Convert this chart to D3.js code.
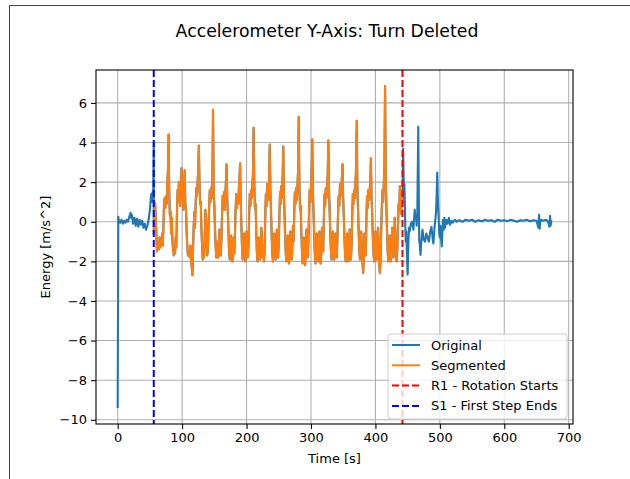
<!DOCTYPE html>
<html>
<head>
<meta charset="utf-8">
<script src="https://cdn.jsdelivr.net/npm/d3@7"></script>
<style>
  html, body { margin: 0; padding: 0; background: #fff; }
  svg { display: block; font-family: "DejaVu Sans", sans-serif; }
</style>
</head>
<body>
<svg id="chart" width="630" height="479"></svg>
<script>
// ---------------- DATA ----------------
const titleText = "Accelerometer Y-Axis: Turn Deleted";
const xLabel = "Time [s]";
const yLabel = "Energy [m/s^2]";
const xTicks = [0, 100, 200, 300, 400, 500, 600, 700];
const yTicks = [-10, -8, -6, -4, -2, 0, 2, 4, 6];
const legendLabels = ["Original", "Segmented", "R1 - Rotation Starts", "S1 - First Step Ends"];
const rotationStart = 442;   // R1
const firstStepEnd = 56;     // S1

// Original signal before S1 (time, value)
const originalStart = [
  [0,-9.4],[1,0.25],[2,0.0],[4,-0.05],[6,0.1],[8,-0.1],[10,0.05],[12,-0.05],[14,0.1],[16,0.0],
  [18,0.25],[20,0.45],[21,0.2],[22,0.35],[24,-0.1],[26,0.2],[28,-0.2],[30,0.15],[32,-0.25],[34,0.1],
  [36,-0.15],[38,0.05],[40,-0.3],[42,-0.1],[44,-0.4],[46,-0.2],[48,0.1],[50,0.6],[52,1.4],[53,1.0],
  [54,1.5],[55,1.2],[56,4.0]
];

// Segmented signal between S1 and R1 (time, value)
const segmented = [
  [56,-0.6],[57,0.4],[58,0.95],[59,0.3],[60,-0.6],[61,-1.5],[62,-1.2],[64,-1.4],[65,-0.8],[66,-1.3],
  [68,-1.0],[69,-0.6],[70,-1.2],[71,-0.3],[72,1.0],[73,1.2],[74,0.7],[75,1.3],[76,0.9],[77,1.9],[78,2.6],[79,4.4],
  [80,1.5],[81,0.3],[82,0.5],[83,-0.6],[84,0.2],[85,-1.0],[86,-1.4],[87,-1.7],[88,-1.5],[89,-1.6],[90,-0.8],
  [91,-1.3],[92,0.4],[93,1.6],[94,1.0],[95,2.0],[96,1.4],[97,0.8],[98,1.6],[99,2.7],[100,1.2],[101,1.4],
  [102,0.6],[103,1.3],[104,2.6],[105,0.9],[106,0.6],[107,-0.5],[108,-1.2],[109,-1.7],[110,-1.5],[112,-1.8],
  [113,-1.2],[114,-1.9],[115,-2.3],[116,-2.7],[117,-1.4],[118,-0.2],[119,0.5],[120,-0.3],[121,0.9],[122,1.7],
  [123,1.3],[124,2.0],[125,2.6],[126,3.85],
  [127,1.8],[128,0.9],[129,1.0],[130,-0.4],[131,-1.2],[132,-1.9],[133,-1.6],[134,-1.8],[135,-0.9],[136,0.6],
  [137,0.2],[138,-1.0],[139,-1.7],[140,-1.4],[141,-0.3],[142,0.7],[143,1.6],[144,1.0],[145,1.7],[146,1.2],[147,2.1],[148,5.65],
  [149,1.4],[150,0.8],[151,-0.3],[152,-1.2],[153,-1.8],[154,-1.6],[155,-1.0],[156,-1.8],[157,-1.4],[158,-0.4],
  [159,-1.1],[160,-1.7],[161,-0.9],[162,0.4],[163,1.3],[164,0.9],[165,1.5],[166,0.6],[167,1.4],[168,2.0],[169,2.9],
  [170,1.2],[171,0.4],[172,-0.6],[173,-1.6],[174,-1.9],[175,-1.3],[176,-0.7],[177,-1.5],[178,-2.0],[179,-1.8],
  [180,-0.8],[181,-1.6],[182,-0.7],[183,0.6],[184,1.4],[185,0.7],[186,1.3],[187,0.9],[188,1.6],[189,2.2],[190,2.95],
  [191,1.0],[192,-0.2],[193,-1.3],[194,-1.9],[195,-1.5],[196,-0.6],[197,-1.2],[198,-2.0],[199,-1.7],[200,-0.5],
  [201,-0.9],[202,-1.8],[203,-1.3],[204,0.3],[205,1.4],[206,0.8],[207,1.6],[208,1.2],[209,1.9],[210,2.4],[211,4.75],
  [212,2.0],[213,0.7],[214,0.9],[215,-0.4],[216,-1.5],[217,-2.0],[218,-1.6],[219,-0.8],[220,-1.4],[221,-1.9],
  [222,-1.3],[223,-0.3],[224,-1.1],[225,-1.8],[226,-1.2],[227,-2.0],[228,-1.5],[229,0.2],[230,1.4],[231,0.8],
  [232,1.9],[233,1.3],[234,1.1],[235,2.1],[236,3.9],
  [237,1.6],[238,0.5],[239,-0.7],[240,-1.6],[241,-2.0],[242,-1.4],[243,-0.6],[244,-1.3],[245,-1.9],[246,-1.6],
  [247,-0.4],[248,-1.0],[249,-1.8],[250,-1.1],[251,0.3],[252,1.5],[253,0.9],[254,1.8],[255,1.2],[256,2.3],[257,3.8],
  [258,1.4],[259,0.3],[260,-0.8],[261,-1.7],[262,-2.0],[263,-1.5],[264,-0.7],[265,-1.6],[266,-2.1],[267,-1.4],
  [268,-0.5],[269,-1.2],[270,-1.9],[271,-1.5],[272,-0.2],[273,-1.0],[274,0.4],[275,1.5],[276,0.9],[277,1.7],
  [278,1.1],[279,1.8],[280,2.6],[281,5.3],
  [282,1.9],[283,0.6],[284,0.8],[285,-0.5],[286,-1.5],[287,-2.1],[288,-1.7],[289,-0.8],[290,-1.6],[291,-2.2],
  [292,-1.3],[293,-0.4],[294,-1.2],[295,-1.8],[296,-1.0],[297,0.5],[298,1.6],[299,1.0],[300,1.8],[301,2.4],[302,4.15],
  [303,1.5],[304,0.4],[305,-0.7],[306,-1.6],[307,-2.1],[308,-1.5],[309,-0.6],[310,-1.4],[311,-2.0],[312,-1.7],
  [313,-0.5],[314,-1.2],[315,-2.1],[316,-1.6],[317,-0.3],[318,-1.0],[319,-1.5],[320,0.2],[321,1.4],[322,0.8],
  [323,1.7],[324,1.2],[325,1.6],[326,2.5],[327,4.1],
  [328,1.6],[329,0.5],[330,-0.6],[331,-1.5],[332,-1.9],[333,-1.4],[334,-0.5],[335,-1.3],[336,-1.9],[337,-1.6],
  [338,-0.6],[339,-1.4],[340,-1.8],[341,-0.9],[342,0.4],[343,1.3],[344,0.8],[345,1.9],[346,1.3],[347,1.6],[348,2.2],[349,2.9],
  [350,1.1],[351,0.2],[352,-0.9],[353,-1.7],[354,-2.0],[355,-1.5],[356,-0.6],[357,-1.4],[358,-2.0],[359,-1.7],
  [360,-0.4],[361,-1.1],[362,-1.9],[363,-1.2],[364,0.3],[365,1.4],[366,0.9],[367,1.6],[368,1.2],[369,1.9],[370,2.7],[371,5.1],
  [372,1.7],[373,0.6],[374,-0.5],[375,-1.4],[376,-1.9],[377,-1.3],[378,-0.5],[379,-1.4],[380,-2.1],[381,-2.6],
  [382,-1.8],[383,-0.6],[384,-1.2],[385,-1.7],[386,0.1],[387,1.3],[388,0.7],[389,1.6],[390,1.1],[391,1.5],[392,2.1],[393,3.2],
  [394,1.2],[395,0.3],[396,-0.8],[397,-1.6],[398,-2.0],[399,-1.4],[400,-0.5],[401,-1.3],[402,-1.9],[403,-1.6],
  [404,-0.3],[405,-1.2],[406,-2.2],[407,-2.6],[408,-1.9],[409,-0.4],[410,0.8],[411,1.6],[412,1.0],[413,1.9],[414,2.8],[415,6.85],
  [416,2.2],[417,0.8],[418,-0.4],[419,-1.5],[420,-2.0],[421,-1.6],[422,-0.7],[423,-1.5],[424,-2.0],[425,-1.3],
  [426,-0.3],[427,-1.2],[428,-1.8],[429,-1.0],[430,0.2],[431,-0.8],[432,-1.6],[433,-2.0],[434,-1.4],[435,-0.2],
  [436,0.9],[437,0.6],[438,1.8],[439,1.2],[440,0.4],[441,1.5],[442,0.9]
];

// Original signal after R1 (time, value)
const originalEnd = [
  [443,3.7],[444,1.8],[445,1.9],[446,0.3],[447,-1.0],[448,-0.5],[449,-1.8],[450,-2.67],[451,-1.2],[452,-0.3],
  [453,-0.5],[455,-0.1],[457,0.0],[459,-0.4],[461,0.6],[462,0.2],[463,0.3],[464,-0.2],[465,0.4],[466.5,4.8],
  [467.5,0.5],[468,-0.9],[469,-1.2],[470,-1.67],[471,-1.1],[473,-0.4],[475,-0.9],[477,-1.0],[479,-0.6],[481,-0.8],
  [483,-1.0],[485,-0.5],[487,-0.25],[489,-0.9],[490,-1.1],[492,-0.2],[494,0.43],[495,1.3],[496,2.48],[497,1.0],
  [498,0.3],[499,-0.6],[500,-0.8],[501,-0.2],[502,-0.9],[503,-1.25],[504,-0.5],[505,0.1],[506,-0.4],[507,0.2],
  [508,-0.3],[510,0.1],[512,-0.1],[514,0.2],[516,-0.15],[518,0.05],[520,-0.05],[523,0.1],[526,0.0],[530,0.08],
  [535,0.0],[540,0.1],[545,0.05],[550,0.1],[555,0.0],[560,0.08],[565,0.02],[570,0.1],[575,0.05],[580,0.08],
  [585,0.0],[590,0.1],[595,0.05],[600,0.08],[605,0.03],[610,0.1],[615,0.05],[620,0.0],[625,0.08],[630,0.05],
  [635,0.1],[640,0.02],[645,0.08],[650,0.05],[653,-0.3],[654,0.35],[655,-0.35],[656,0.1],[660,0.05],[665,0.1],
  [668,0.0],[670,-0.25],[671,0.3],[672,-0.2],[673,0.1]
];

// ---------------- LAYOUT ----------------
const svg = d3.select("#chart");
const W = 630, H = 479;
const plot = { left: 96, right: 573, top: 70, bottom: 424 };

const original = originalStart.concat(segmented, originalEnd);

const tMin = 0, tMax = 673, vMin = -9.4, vMax = 6.85;
const xPad = (tMax - tMin) * 0.05, yPad = (vMax - vMin) * 0.05;
const x = d3.scaleLinear().domain([tMin - xPad, tMax + xPad]).range([plot.left, plot.right]);
const y = d3.scaleLinear().domain([vMin - yPad, vMax + yPad]).range([plot.bottom, plot.top]);

svg.append("rect").attr("x", 0).attr("y", 0).attr("width", W).attr("height", H).attr("fill", "#fff");
// figure frame
svg.append("path").attr("d", `M9.5,${H} L9.5,5.5 L${W},5.5`).attr("fill", "none").attr("stroke", "#444").attr("stroke-width", 1);

// grid
const grid = svg.append("g");
grid.selectAll("line.gx").data(xTicks).join("line")
  .attr("x1", d => x(d)).attr("x2", d => x(d)).attr("y1", plot.top).attr("y2", plot.bottom)
  .attr("stroke", "#b0b0b0").attr("stroke-width", 1.1);
grid.selectAll("line.gy").data(yTicks).join("line")
  .attr("y1", d => y(d)).attr("y2", d => y(d)).attr("x1", plot.left).attr("x2", plot.right)
  .attr("stroke", "#b0b0b0").attr("stroke-width", 1.1);

// clip
svg.append("clipPath").attr("id", "clip").append("rect")
  .attr("x", plot.left).attr("y", plot.top).attr("width", plot.right - plot.left).attr("height", plot.bottom - plot.top);

const line = d3.line().x(d => x(d[0])).y(d => y(d[1]));
const dataG = svg.append("g").attr("clip-path", "url(#clip)");
dataG.append("path").datum(original).attr("d", line).attr("fill", "none")
  .attr("stroke", "#1f77b4").attr("stroke-width", 2.1).attr("stroke-linejoin", "round");
dataG.append("path").datum(segmented).attr("d", line).attr("fill", "none")
  .attr("stroke", "#ff7f0e").attr("stroke-width", 2.1).attr("stroke-linejoin", "round");

// vertical markers
dataG.append("line").attr("x1", x(rotationStart)).attr("x2", x(rotationStart)).attr("y1", plot.top).attr("y2", plot.bottom)
  .attr("stroke", "#ff0000").attr("stroke-width", 2).attr("stroke-dasharray", "7,3");
dataG.append("line").attr("x1", x(firstStepEnd)).attr("x2", x(firstStepEnd)).attr("y1", plot.top).attr("y2", plot.bottom)
  .attr("stroke", "#0000ff").attr("stroke-width", 2).attr("stroke-dasharray", "7,3");

// axes
const fmt = d => (d < 0 ? "\u2212" + Math.abs(d) : String(d));
const xAxis = svg.append("g").attr("transform", `translate(0,${plot.bottom})`)
  .call(d3.axisBottom(x).tickValues(xTicks).tickFormat(fmt).tickSize(5).tickPadding(4));
const yAxis = svg.append("g").attr("transform", `translate(${plot.left},0)`)
  .call(d3.axisLeft(y).tickValues(yTicks).tickFormat(fmt).tickSize(5).tickPadding(4));
[xAxis, yAxis].forEach(g => {
  g.select(".domain").remove();
  g.selectAll(".tick line").attr("stroke", "#000").attr("stroke-width", 1.1);
  g.selectAll(".tick text").attr("fill", "#000").style("font-size", "13px").style("font-family", "DejaVu Sans");
});

// spines
svg.append("rect").attr("x", plot.left).attr("y", plot.top)
  .attr("width", plot.right - plot.left).attr("height", plot.bottom - plot.top)
  .attr("fill", "none").attr("stroke", "#000").attr("stroke-width", 1.1);

// labels
svg.append("text").attr("x", (plot.left + plot.right) / 2).attr("y", 463).attr("text-anchor", "middle")
  .style("font-size", "13px").text(xLabel);
svg.append("text").attr("transform", `translate(50,${(plot.top + plot.bottom) / 2}) rotate(-90)`)
  .attr("text-anchor", "middle").style("font-size", "13px").text(yLabel);
svg.append("text").attr("x", 327).attr("y", 37).attr("text-anchor", "middle")
  .style("font-size", "17.3px").text(titleText);

// legend
const lg = svg.append("g");
lg.append("rect").attr("x", 388).attr("y", 334).attr("width", 179).attr("height", 85).attr("rx", 3)
  .attr("fill", "#fff").attr("fill-opacity", 0.8).attr("stroke", "#cccccc").attr("stroke-width", 1);
const legendStyles = [
  { color: "#1f77b4", dash: null },
  { color: "#ff7f0e", dash: null },
  { color: "#ff0000", dash: "7,3" },
  { color: "#0000ff", dash: "7,3" }
];
legendLabels.forEach((lab, i) => {
  const yy = 345 + i * 20.3;
  lg.append("line").attr("x1", 392).attr("x2", 420).attr("y1", yy).attr("y2", yy)
    .attr("stroke", legendStyles[i].color).attr("stroke-width", 2)
    .attr("stroke-dasharray", legendStyles[i].dash);
  lg.append("text").attr("x", 431).attr("y", yy + 4.5).style("font-size", "13px").text(lab);
});
</script>
</body>
</html>
